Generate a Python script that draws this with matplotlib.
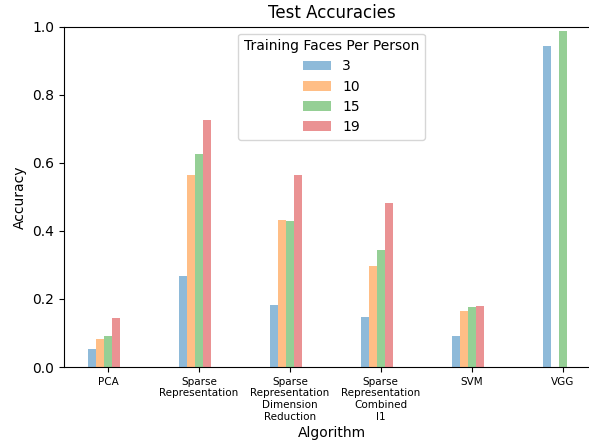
import numpy as np
import matplotlib
matplotlib.use("Agg")
import matplotlib.pyplot as plt

algorithms = ["PCA", "Sparse\nRepresentation", "Sparse\nRepresentation\nDimension\nReduction",
              "Sparse\nRepresentation\nCombined\nl1", "SVM", "VGG"]
series_labels = ["3", "10", "15", "19"]
acc_3 = [0.052, 0.268, 0.183, 0.146, 0.092, 0.944]
acc_10 = [0.081, 0.565, 0.431, 0.296, 0.164, np.nan]
acc_15 = [0.090, 0.627, 0.428, 0.344, 0.175, 0.986]
acc_19 = [0.144, 0.726, 0.565, 0.482, 0.178, np.nan]
series = [acc_3, acc_10, acc_15, acc_19]
colors = ["#1f77b4", "#ff7f0e", "#2ca02c", "#d62728"]

fig = plt.figure(figsize=(5.89, 4.40), dpi=100)
ax = fig.add_axes([64/589, 73/440, (599-64)/589, (367-26.7)/440])

x = np.arange(len(algorithms))
w = 0.088
for i, (vals, lab, c) in enumerate(zip(series, series_labels, colors)):
    ax.bar(x + (i - 2) * w, vals, w, label=lab, color=c, alpha=0.5)

ax.set_xlim(-0.484, 5.40)
ax.set_ylim(0, 1.0)
ax.set_xticks(x)
ax.set_xticklabels(algorithms, fontsize=7.5)
ax.tick_params(axis="y", labelsize=10)
ax.set_xlabel("Algorithm", fontsize=10, labelpad=3)
ax.set_ylabel("Accuracy", fontsize=10)
ax.set_title("Test Accuracies", fontsize=12)
ax.legend(title="Training Faces Per Person", loc="upper center", fontsize=10,
          title_fontsize=10, labelspacing=0.45)

fig.savefig("out.png", dpi=100)
